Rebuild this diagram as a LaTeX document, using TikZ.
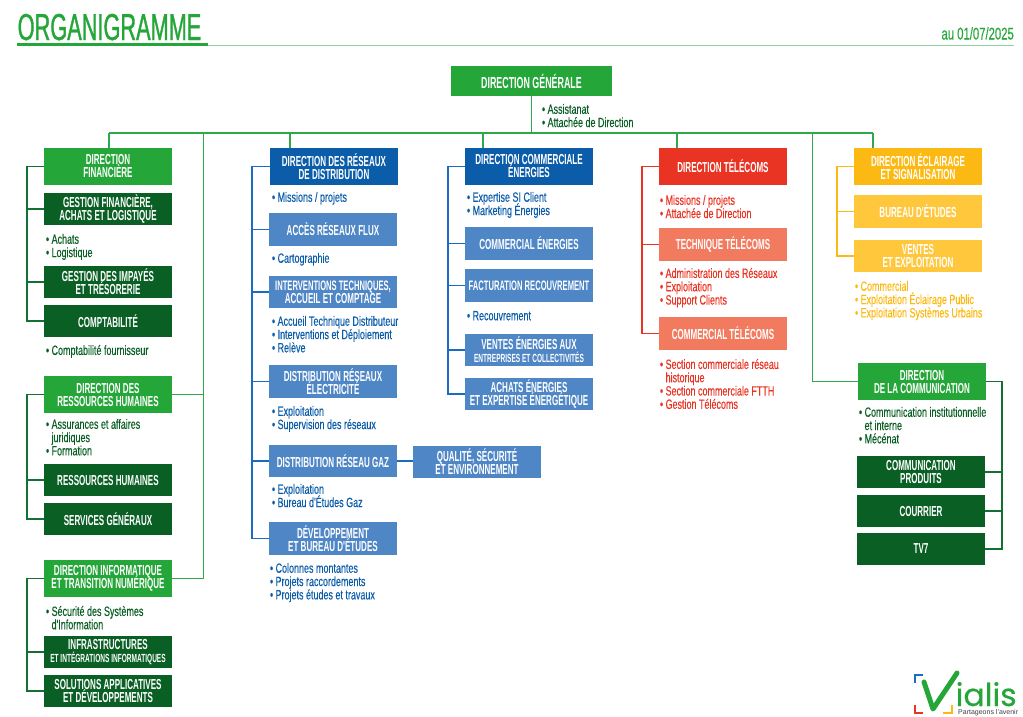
\documentclass[tikz,border=0pt]{standalone}
\usepackage{fontspec}
\setmainfont{Liberation Sans}
\newfontfamily\hdfont[FakeStretch=0.555]{Liberation Sans Bold}
\newfontfamily\lsfont[FakeStretch=0.665,FakeBold=0.25]{Liberation Sans}
\newfontfamily\ttlfont[FakeStretch=0.58,FakeBold=0.9]{Liberation Sans}
\newfontfamily\logofont[FakeBold=0.4]{Poppins}
\lineskiplimit=-20pt
\normallineskiplimit=-20pt
\definecolor{cgreen}{HTML}{24A639}
\definecolor{cdark}{HTML}{0A5F24}
\definecolor{cblue}{HTML}{0B5DAA}
\definecolor{clblue}{HTML}{4F86C6}
\definecolor{cred}{HTML}{E93323}
\definecolor{csalmon}{HTML}{F27A5E}
\definecolor{cyel}{HTML}{FDB913}
\definecolor{clyel}{HTML}{FFC73C}
\definecolor{lnblue}{HTML}{1B6CC0}
\definecolor{lngreen}{HTML}{2EA84A}
\definecolor{lndark}{HTML}{137033}
\definecolor{ltgreen}{HTML}{8FD19C}
\tikzset{
 orgbox/.style={inner sep=0pt,outer sep=0pt,align=center,text=white,
   font=\hdfont\fontsize{14.5}{13}\selectfont},
 fgreen/.style={orgbox,fill=cgreen},
 fdark/.style={orgbox,fill=cdark},
 fblue/.style={orgbox,fill=cblue},
 flblue/.style={orgbox,fill=clblue},
 fred/.style={orgbox,fill=cred},
 fsalmon/.style={orgbox,fill=csalmon},
 fyel/.style={orgbox,fill=cyel},
 flyel/.style={orgbox,fill=clyel},
 listing/.style={inner sep=0pt,outer sep=0pt,anchor=north west,align=left,yshift=-1pt,
   font=\lsfont\fontsize{13.5}{13.3}\selectfont},
 lgreen/.style={line width=1.5pt,draw=lngreen},
 ldark/.style={line width=1.5pt,draw=lndark},
 lblue/.style={line width=1.5pt,draw=lnblue},
 lred/.style={line width=1.5pt,draw=cred},
 lyel/.style={line width=1.5pt,draw=cyel},
}
\newcommand\bx[7]{\node[#1,minimum width={(#5-#3)*1pt},minimum height={(#6-#4)*1pt}] (#2) at ({(#3+#5)/2},{(#4+#6)/2}) {#7};}
\newcommand\bl{\makebox[5.6pt][l]{•}}
\newcommand\nb{\makebox[5.6pt][l]{}}
\newcommand\smh{\fontsize{11.8}{13}\selectfont}
\newcommand\smt{\fontsize{13.7}{13}\selectfont}
\begin{document}
\begin{tikzpicture}[x=1pt,y=-1pt]
\useasboundingbox (0,0) rectangle (1023,716);
% title
\node[inner sep=0pt,anchor=base west,text=cgreen,font=\ttlfont\fontsize{37.5}{38}\selectfont] (ttl) at (17.5,40) {ORGANIGRAMME};
\fill[cgreen] (17,43) rectangle (208,46);
\draw[ltgreen,line width=1pt] (208,45.5) -- (1014,45.5);
\node[inner sep=0pt,anchor=base east,text=cgreen,font=\lsfont\fontsize{17}{14}\selectfont] (date) at (1014,39.5) {au 01/07/2025};
% boxes
\bx{fgreen}{dg}{451}{66}{612}{96}{\fontsize{16}{16}\selectfont DIRECTION GÉNÉRALE}
\bx{fgreen}{df}{44}{148}{172}{185}{DIRECTION\\FINANCIÈRE}
\bx{fdark}{gf}{44}{193}{172}{225}{GESTION FINANCIÈRE,\\ACHATS ET LOGISTIQUE}
\bx{fdark}{gi}{44}{266}{172}{298}{GESTION DES IMPAYÉS\\ET TRÉSORERIE}
\bx{fdark}{co}{44}{305}{172}{337}{COMPTABILITÉ}
\bx{fgreen}{rh}{44}{376}{172}{413}{DIRECTION DES\\RESSOURCES HUMAINES}
\bx{fdark}{rhu}{44}{464}{172}{496}{RESSOURCES HUMAINES}
\bx{fdark}{sg}{44}{503}{172}{535}{SERVICES GÉNÉRAUX}
\bx{fgreen}{di}{44}{560}{172}{597}{DIRECTION INFORMATIQUE\\ET TRANSITION NUMÉRIQUE}
\bx{fdark}{inf}{44}{636}{172}{668}{INFRASTRUCTURES\\{\smh ET INTÉGRATIONS INFORMATIQUES}}
\bx{fdark}{sol}{44}{675}{172}{707}{SOLUTIONS APPLICATIVES\\ET DÉVELOPPEMENTS}
\bx{fblue}{dr}{270}{148}{398}{185}{DIRECTION DES RÉSEAUX\\DE DISTRIBUTION}
\bx{flblue}{ac}{269}{213}{397}{246}{ACCÈS RÉSEAUX FLUX}
\bx{flblue}{it}{269}{276}{397}{308}{\smt INTERVENTIONS TECHNIQUES,\\ACCUEIL ET COMPTAGE}
\bx{flblue}{de}{269}{365}{397}{398}{DISTRIBUTION RÉSEAUX\\ÉLECTRICITÉ}
\bx{flblue}{dz}{269}{445}{397}{477}{DISTRIBUTION RÉSEAU GAZ}
\bx{flblue}{qu}{413}{446}{541}{478}{QUALITÉ, SÉCURITÉ\\ET ENVIRONNEMENT}
\bx{flblue}{dv}{269}{522}{397}{555}{DÉVELOPPEMENT\\ET BUREAU D'ÉTUDES}
\bx{fblue}{dc}{465}{148}{593}{185}{DIRECTION COMMERCIALE\\ÉNERGIES}
\bx{flblue}{ce}{465}{227}{593}{260}{COMMERCIAL ÉNERGIES}
\bx{flblue}{fa}{465}{269}{593}{302}{\smt FACTURATION RECOUVREMENT}
\bx{flblue}{ve}{465}{334}{593}{366}{VENTES ÉNERGIES AUX\\{\smh ENTREPRISES ET COLLECTIVITÉS}}
\bx{flblue}{aa}{465}{378}{593}{410}{ACHATS ÉNERGIES\\ET EXPERTISE ÉNERGÉTIQUE}
\bx{fred}{dt}{659}{148}{787}{185}{DIRECTION TÉLÉCOMS}
\bx{fsalmon}{tt}{659}{228}{787}{261}{TECHNIQUE TÉLÉCOMS}
\bx{fsalmon}{ct}{659}{317}{787}{350}{COMMERCIAL TÉLÉCOMS}
\bx{fyel}{el}{854}{148}{982}{185}{DIRECTION ÉCLAIRAGE\\ET SIGNALISATION}
\bx{flyel}{be}{854}{195}{982}{228}{BUREAU D'ÉTUDES}
\bx{flyel}{vx}{854}{240}{982}{272}{VENTES\\ET EXPLOITATION}
\bx{fgreen}{cm}{858}{363}{986}{400}{DIRECTION\\DE LA COMMUNICATION}
\bx{fdark}{cp}{857}{456}{985}{488}{COMMUNICATION\\PRODUITS}
\bx{fdark}{cr}{857}{495}{985}{527}{COURRIER}
\bx{fdark}{tv}{857}{533}{985}{565}{TV7}
% lists
\node[listing,text=cdark] (l1) at (542,103) {\bl Assistanat\\\bl Attachée de Direction};
\node[listing,text=cdark] (l2) at (46,233) {\bl Achats\\\bl Logistique};
\node[listing,text=cdark] (l3) at (46,344) {\bl Comptabilité fournisseur};
\node[listing,text=cdark] (l4) at (46,418) {\bl Assurances et affaires\\\nb juridiques\\\bl Formation};
\node[listing,text=cdark] (l5) at (46,605) {\bl Sécurité des Systèmes\\\nb d'Information};
\node[listing,text=cblue] (l6) at (272,191) {\bl Missions / projets};
\node[listing,text=cblue] (l7) at (272,252) {\bl Cartographie};
\node[listing,text=cblue] (l8) at (272,315) {\bl Accueil Technique Distributeur\\\bl Interventions et Déploiement\\\bl Relève};
\node[listing,text=cblue] (l9) at (272,405) {\bl Exploitation\\\bl Supervision des réseaux};
\node[listing,text=cblue] (l10) at (272,483) {\bl Exploitation\\\bl Bureau d'Études Gaz};
\node[listing,text=cblue] (l11) at (270,562) {\bl Colonnes montantes\\\bl Projets raccordements\\\bl Projets études et travaux};
\node[listing,text=cblue] (l12) at (467,191) {\bl Expertise SI Client\\\bl Marketing Énergies};
\node[listing,text=cblue] (l13) at (467,310) {\bl Recouvrement};
\node[listing,text=cred] (l14) at (660,194) {\bl Missions / projets\\\bl Attachée de Direction};
\node[listing,text=cred] (l15) at (660,267) {\bl Administration des Réseaux\\\bl Exploitation\\\bl Support Clients};
\node[listing,text=cred] (l16) at (660,358) {\bl Section commerciale réseau\\\nb historique\\\bl Section commerciale FTTH\\\bl Gestion Télécoms};
\node[listing,text=cyel] (l17) at (855,280) {\bl Commercial\\\bl Exploitation Éclairage Public\\\bl Exploitation Systèmes Urbains};
\node[listing,text=cdark] (l18) at (859,406) {\bl Communication institutionnelle\\\nb et interne\\\bl Mécénat};
% connectors: general bus
\coordinate (busl) at (109,133);
\coordinate (busr) at (873,133);
\draw[lgreen] (busl) -- (busr);
\draw[lgreen] (dg.south) -- (dg.south |- busl);
\draw[lgreen] (busl) -- (df.north -| busl);
\draw[lgreen] ([xshift=20pt]dr.north west) -- ([xshift=20pt]dr.north west |- busl);
\draw[lgreen] ([xshift=18pt]dc.north west) -- ([xshift=18pt]dc.north west |- busl);
\draw[lgreen] ([xshift=18pt]dt.north west) -- ([xshift=18pt]dt.north west |- busl);
\draw[lgreen] (busr) -- (el.north -| busr);
\coordinate (busa) at (203.5,133);
\coordinate (busb) at (812.5,133);
\draw[lgreen] (rh.east) -| (busa);
\draw[lgreen] (di.east) -| (busa);
\draw[lgreen] (cm.west) -| (busb);
% connectors: left column
\draw[ldark] (df.west) -- ++(-17,0) |- (co.west);
\draw[ldark] (gf.west) -- ++(-17,0);
\draw[ldark] (gi.west) -- ++(-17,0);
\draw[ldark] (rh.west) -- ++(-17,0) |- (sg.west);
\draw[ldark] (rhu.west) -- ++(-17,0);
\draw[ldark] (di.west) -- ++(-17,0) |- (sol.west);
\draw[ldark] (inf.west) -- ++(-17,0);
% column 2
\draw[lblue] (dr.west) -- ++(-18,0) |- (dv.west);
\draw[lblue] (ac.west) -- ++(-17,0);
\draw[lblue] (it.west) -- ++(-17,0);
\draw[lblue] (de.west) -- ++(-17,0);
\draw[lblue] (dz.west) -- ++(-17,0);
\draw[lblue] (dz.east) -- (qu.west |- dz.east);
% column 3
\draw[lblue] (dc.west) -- ++(-17,0) |- (aa.west);
\draw[lblue] (ce.west) -- ++(-17,0);
\draw[lblue] (fa.west) -- ++(-17,0);
\draw[lblue] (ve.west) -- ++(-17,0);
% column 4
\draw[lred] (dt.west) -- ++(-17,0) |- (ct.west);
\draw[lred] (tt.west) -- ++(-17,0);
% column 5
\draw[lyel] (el.west) -- ++(-17,0) |- (vx.west);
\draw[lyel] (be.west) -- ++(-17,0);
% communication
\draw[ldark] (cm.east) -- ++(16,0) |- (tv.east);
\draw[ldark] (cp.east) -- ++(17,0);
\draw[ldark] (cr.east) -- ++(17,0);
% logo
\draw[lnblue,line width=2pt] (915,683) |- (923,675);
\draw[cred,line width=2pt] (915,705) |- (923,713);
\draw[cyel,line width=2pt] (943,713) -| (952,705);
\draw[cgreen,line width=5pt,line cap=round,line join=round] (924,682) -- (933,709) -- (957,673);
\node[inner sep=0pt,anchor=base west,text=cgreen,font=\logofont\fontsize{31.5}{29}\selectfont] (lg) at (955.5,706) {ialis};
\node[inner sep=0pt,anchor=base west,text=black!75,font=\fontsize{7}{7}\selectfont] (lgs) at (958,714) {Partageons l'avenir};
\end{tikzpicture}
\end{document}
